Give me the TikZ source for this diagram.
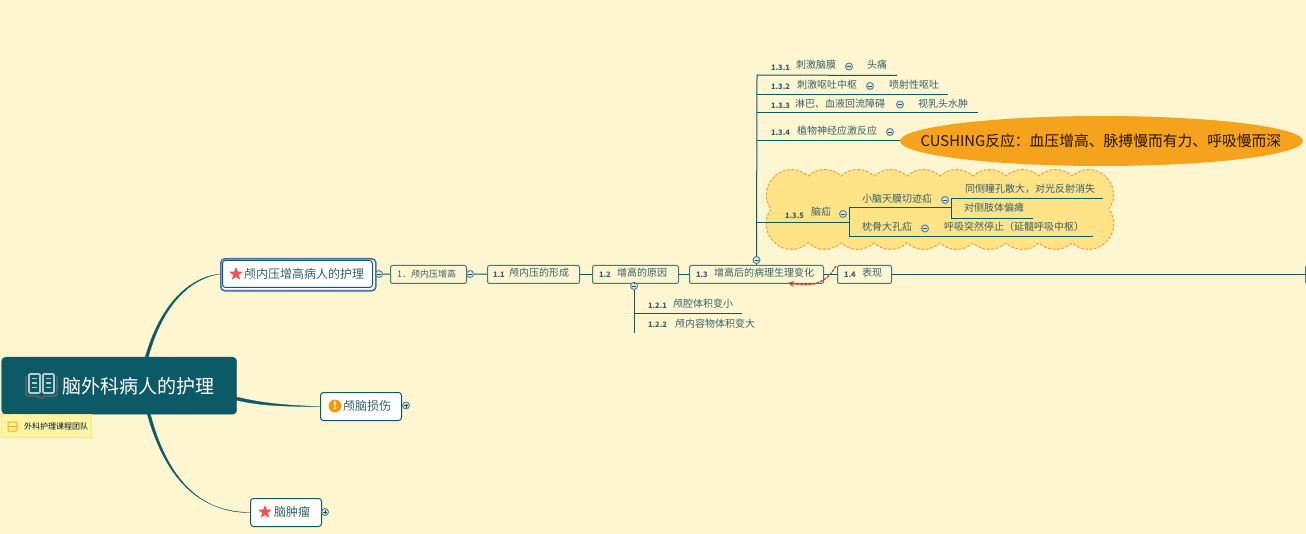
\documentclass[tikz,border=0pt]{standalone}
\usepackage{fontspec}
\setmainfont{Noto Sans CJK SC}
\usetikzlibrary{shapes.geometric,arrows.meta,calc}
\definecolor{bgc}{HTML}{FEF6D1}
\definecolor{teal1}{HTML}{0B5A66}
\definecolor{txt}{HTML}{35616A}
\definecolor{soft}{HTML}{3F7A80}
\definecolor{cloudf}{HTML}{FFE387}
\definecolor{cloudb}{HTML}{E9A63F}
\definecolor{orangef}{HTML}{F5A31C}
\definecolor{starc}{HTML}{EE5350}
\definecolor{redl}{HTML}{C0452F}
\definecolor{circf}{HTML}{DCE6E8}
\definecolor{circb}{HTML}{5C8790}
\definecolor{notef}{HTML}{FFF3A6}
\definecolor{noteb}{HTML}{FBE48E}
\definecolor{warnc}{HTML}{F79A0A}
\definecolor{blueb}{HTML}{4A6DB0}
\newcommand{\fs}[1]{\fontsize{#1}{#1}\selectfont}
\tikzset{
  x=1pt,y=-1pt,
  lab/.style={inner sep=0pt,outer sep=0pt,anchor=west,text=txt,font=\fs{10}},
  num/.style={inner sep=0pt,outer sep=0pt,anchor=west,text=txt,font=\fs{7.5}\bfseries},
  subbox/.style={draw=soft,line width=1pt,rounded corners=2pt,fill=bgc,inner sep=0pt,anchor=north west},
  topic/.style={draw=teal1,line width=1pt,rounded corners=3pt,fill=white,inner sep=0pt,anchor=north west},
  link/.style={draw=teal1,line width=1pt},
  rule/.style={draw=teal1,line width=1pt},
  taper/.style={fill=teal1,draw=teal1,line width=.3pt},
  minusc/.style={circle,draw=circb,fill=circf,line width=1pt,minimum size=7pt,inner sep=0pt,
    path picture={\draw[teal1,line width=.6pt] ($(path picture bounding box.center)+(-2pt,0)$)--($(path picture bounding box.center)+(2pt,0)$);}},
  plusc/.style={minusc,
    path picture={\draw[teal1,line width=.6pt] ($(path picture bounding box.center)+(-2pt,0)$)--($(path picture bounding box.center)+(2pt,0)$)
      ($(path picture bounding box.center)+(0,-2pt)$)--($(path picture bounding box.center)+(0,2pt)$);}},
  staricon/.style={star,star points=5,star point ratio=2.3,fill=starc,minimum size=14pt,inner sep=0pt},
}
\begin{document}
\begin{tikzpicture}
\useasboundingbox[fill=bgc] (0,0) rectangle (1306,534);

% cloud
\draw[fill=cloudf,draw=cloudb,line width=1pt,dashed,dash pattern=on 3pt off 1.5pt]
  (775,176)
  \foreach \x in {808,841,874,907,940,973,1006,1039,1072,1105} { to[bend left=42] (\x,176) }
  to[bend left=42] (1109,209) to[bend left=42] (1105,243)
  \foreach \x in {1072,1039,1006,973,940,907,874,841,808,775} { to[bend left=42] (\x,243) }
  to[bend left=42] (771,209) to[bend left=42] (775,176) -- cycle;

% main nodes
\node[topic,minimum width=81pt,minimum height=28pt] (t2) at (320,392) {};
\node[topic,minimum width=71pt,minimum height=28pt] (t3) at (250,498) {};
\coordinate (t1w) at (220,274);

% main curves (tapered)
\coordinate (r1) at (146,360);
\coordinate (r2) at (234,398);
\coordinate (r3) at (148,411);
\draw[taper] ($(r1)+(-1.6,0)$) .. controls (158,310) and (185,278) .. (t1w)
   .. controls (186,279) and (160,311) .. ($(r1)+(1.6,0)$) -- cycle;
\draw[taper] ($(r2)+(0,-1.6)$) .. controls (260,403) and (285,405.5) .. (t2.west)
   .. controls (285,406.5) and (260,406) .. ($(r2)+(0,1.6)$) -- cycle;
\draw[taper] ($(r3)+(-1.6,0)$) .. controls (165,480) and (200,512) .. (t3.west)
   .. controls (200,513) and (166,478) .. ($(r3)+(1.6,0)$) -- cycle;

% root
\node[draw=teal1,fill=teal1,rounded corners=4pt,anchor=north west,minimum width=235pt,minimum height=57pt,inner sep=0pt] (root) at (1.5,357) {};
\node[inner sep=0pt,anchor=west,text=white,font=\fs{19}] (roott) at (62,386) {脑外科病人的护理};

% book icon
\draw[draw=black!15!gray!60!teal1,line width=2pt,rounded corners=1.5pt] (26,376) -- (26,396) -- (38,396) -- (41,399) -- (44,396) -- (57,396) -- (57,376);
\draw[draw=white!70!teal1,fill=teal1,line width=1.6pt,rounded corners=1pt] (29,374) -- (40,374) -- (40,393) -- (29,393) -- cycle;
\draw[draw=white!70!teal1,fill=teal1,line width=1.6pt,rounded corners=1pt] (43,374) -- (54,374) -- (54,393) -- (43,393) -- cycle;
\foreach \y in {378.5,383,387.5} {\draw[white!70!teal1,line width=1.5pt] (32,\y)--(37,\y) (46,\y)--(51,\y);}

% note
\node[draw=noteb,fill=notef,line width=1pt,anchor=north west,minimum width=90pt,minimum height=23pt,inner sep=0pt] (note) at (1,414) {};
\draw[draw=orange!65!yellow,line width=1pt,rounded corners=1pt] (8,422) rectangle (17,431) (8,426.5)--(17,426.5);
\node[inner sep=0pt,anchor=west,text=black!75!teal1,font=\fs{8}] (notet) at (24,426.5) {外科护理课程团队};

% topic 1
\node[draw=blueb,fill=white,line width=1.6pt,rounded corners=4pt,anchor=north west,minimum width=155pt,minimum height=32pt,inner sep=0pt] (t1) at (220,258) {};
\draw[draw=teal1,line width=1pt,rounded corners=3pt] (222.5,260.5) rectangle (372.5,287.5);
\node[staricon] (star1) at (236,274) {};
\node[lab,font=\fs{12}] (t1t) at (244,274) {颅内压增高病人的护理};
\node[minusc] (c1) at (379,274) {};
\node[subbox,minimum width=76pt,minimum height=18pt] (l1) at (390,265) {};
\node[lab,font=\fs{9}] (l1t) at (397,274) {1．颅内压增高};
\node[minusc] (c2) at (470,274) {};
\node[subbox,minimum width=92pt,minimum height=18pt] (l11) at (487,265) {};
\node[num] (l11n) at (493,274.5) {1.1};
\node[lab] (l11t) at (509,273) {颅内压的形成};
\node[subbox,minimum width=86pt,minimum height=18pt] (l12) at (592,265) {};
\node[num] (l12n) at (599,274.5) {1.2};
\node[lab] (l12t) at (617,273) {增高的原因};
\node[subbox,minimum width=134pt,minimum height=18pt] (l13) at (689,265) {};
\node[num] (l13n) at (696,274.5) {1.3};
\node[lab] (l13t) at (714,273) {增高后的病理生理变化};
\node[subbox,minimum width=54pt,minimum height=18pt] (l14) at (837,265) {};
\node[num] (l14n) at (844,274.5) {1.4};
\node[lab] (l14t) at (862,273) {表现};
\node[subbox,minimum width=12pt,minimum height=18pt] (l15) at (1305,265) {};

\draw[link] (t1) -- (c1);
\draw[link] (c1) -- (l1);
\draw[link] (l1) -- (c2);
\draw[link] (c2) -- (l11);
\draw[link] (l11) -- (l12);
\draw[link] (l12) -- (l13);
\draw[link] (l13) -- (l14);
\draw[link] (l14) -- (l15);

% topics 2, 3
\node[inner sep=0pt,circle,fill=warnc,minimum size=13pt,text=white,font=\fs{10}\bfseries] (warn) at (335,406) {!};
\node[lab,font=\fs{12}] (t2t) at (343,405.5) {颅脑损伤};
\node[plusc] (c3) at (406,405.5) {};
\draw[link] (t2) -- (c3);
\node[staricon] (star3) at (265,512) {};
\node[lab,font=\fs{12}] (t3t) at (274,511.5) {脑肿瘤};
\node[plusc] (c4) at (325,512) {};
\draw[link] (t3) -- (c4);

% 1.2 branch
\node[minusc] (c12) at (634,286) {};
\draw[link] (l12.south -| c12) -- (c12);
\coordinate (v12) at (634,333);
\draw[link] (c12) -- (v12);
\coordinate (a121) at (634,314);
\coordinate (e121) at (742,314);
\draw[rule] (a121) -- (e121);
\node[num] (n121) at (648,306) {1.2.1};
\node[lab] (t121) at (673,304) {颅腔体积变小};
\node[num] (n122) at (648,325) {1.2.2};
\node[lab] (t122) at (675,324) {颅内容物体积变大};

% 1.3 branch
\node[minusc] (c13) at (756.5,260) {};
\draw[link] (l13.north -| c13) -- (c13);
\coordinate (v13) at (757,75);
\draw[link] (c13) -- (v13);
\coordinate (e131) at (897,75.5);
\coordinate (e132) at (948,94.5);
\coordinate (e133) at (978,113);
\coordinate (e134) at (900,140.5);
\draw[rule] (v13) -- (e131);
\draw[rule] (v13 |- e132) -- (e132);
\draw[rule] (v13 |- e133) -- (e133);
\draw[rule] (v13 |- e134) -- (e134);

\node[num] (n131) at (771,68) {1.3.1};
\node[lab] (t131) at (796,65) {刺激脑膜};
\node[minusc] (c131) at (849,66.5) {};
\node[lab] (t131b) at (867,65) {头痛};
\node[num] (n132) at (771,87) {1.3.2};
\node[lab] (t132) at (797,84.5) {刺激呕吐中枢};
\node[minusc] (c132) at (870,86) {};
\node[lab] (t132b) at (889,84.5) {喷射性呕吐};
\node[num] (n133) at (771,106) {1.3.3};
\node[lab] (t133) at (795,103.5) {淋巴、血液回流障碍};
\node[minusc] (c133) at (900,104.5) {};
\node[lab] (t133b) at (918,103.5) {视乳头水肿};
\node[num] (n134) at (771,133) {1.3.4};
\node[lab] (t134) at (797,130.5) {植物神经应激反应};
\node[minusc] (c134) at (890,132) {};

\node[ellipse,fill=orangef,minimum width=403pt,minimum height=50pt,inner sep=0pt] (cush) at (1101.5,141) {};
\node[inner sep=0pt,anchor=center,text=black!85!orange,font=\fs{14.8}] (cusht) at (1101,141) {CUSHING反应：血压增高、脉搏慢而有力、呼吸慢而深};

% 1.3.5
\coordinate (a135) at (757,222.5);
\coordinate (j135) at (849,222.5);
\draw[rule] (a135) -- (j135);
\node[num] (n135) at (785,215.5) {1.3.5};
\node[lab] (t135) at (811,212) {脑疝};
\node[minusc] (c135) at (843,214) {};
\coordinate (b1t) at (849,208);
\coordinate (b1b) at (849,237);
\coordinate (b1te) at (951,208);
\coordinate (b1be) at (1093,237);
\draw[rule] (b1te) -- (b1t) -- (b1b) -- (b1be);
\node[lab] (t1351) at (862,198.5) {小脑天膜切迹疝};
\node[minusc] (c1351) at (945,200) {};
\node[lab] (t1352) at (862,227) {枕骨大孔疝};
\node[minusc] (c1352) at (925,228.5) {};
\node[lab] (t1352b) at (944,227) {呼吸突然停止（延髓呼吸中枢）};
\coordinate (b2t) at (951,199);
\coordinate (b2b) at (951,218.5);
\coordinate (b2te) at (1103,199);
\coordinate (b2be) at (1033,218.5);
\draw[rule] (b2te) -- (b2t) -- (b2b) -- (b2be);
\node[lab] (t13511) at (965,189) {同侧瞳孔散大，对光反射消失};
\node[lab] (t13512) at (964,208) {对侧肢体偏瘫};

% relation arrow
\coordinate (ra) at (836,266);
\coordinate (rb) at (788,283);
\draw[redl,line width=1.3pt,dashed,dash pattern=on 3pt off 1pt,-{Stealth[length=6pt,width=6pt]}] (ra) .. controls (826,284) and (812,287) .. (rb);
\end{tikzpicture}
\end{document}
